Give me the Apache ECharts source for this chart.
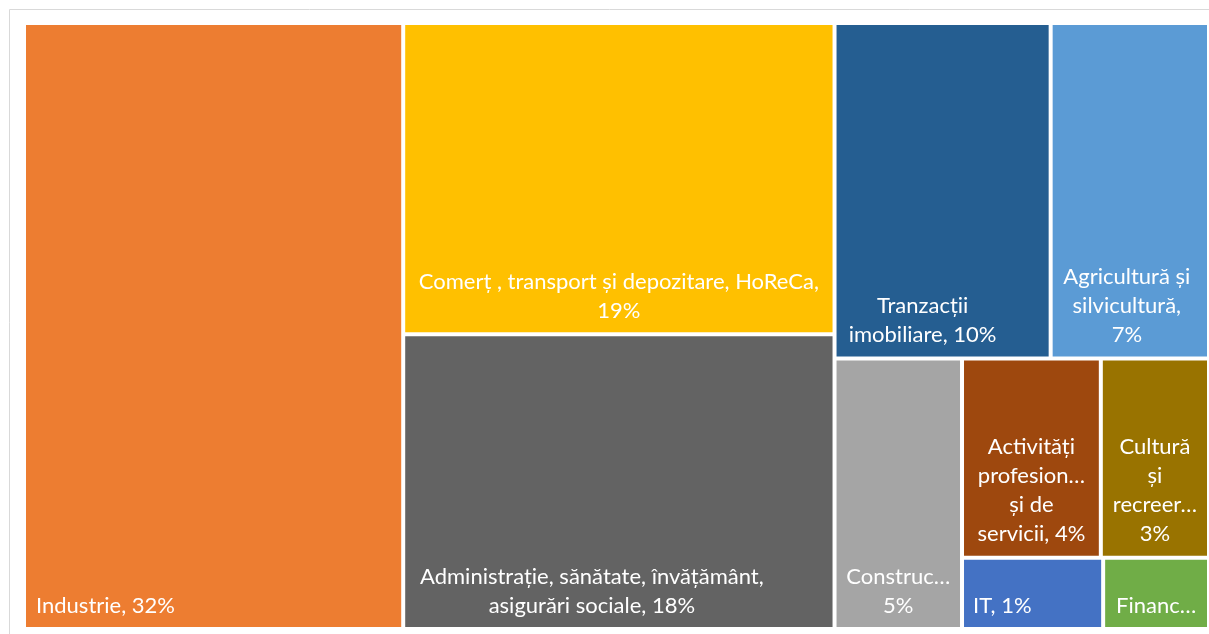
<!DOCTYPE html>
<html>
<head>
<meta charset="utf-8">
<script src="https://cdn.jsdelivr.net/npm/echarts@6/dist/echarts.min.js"></script>
<style>
  html, body { margin: 0; background: #fff; }
  #chart { width: 1209px; height: 634px; }
</style>
</head>
<body>
<div id="chart"></div>
<script>
// sectoare si ponderea lor (%)
const sectors = [
  "Industrie",
  "Comerț , transport și depozitare, HoReCa",
  "Administrație, sănătate, învățământ, asigurări sociale",
  "Tranzacții imobiliare",
  "Agricultură și silvicultură",
  "Construcții",
  "Activități profesionale și de servicii",
  "Cultură și recreere",
  "IT",
  "Financiar"
]
const shares = [32.0, 18.7, 17.7, 10.1, 7.4, 4.8, 3.85, 3.0, 1.4, 1.05]
const sectorColors = ["#ED7D31", "#FFC000", "#636363", "#255E91", "#5B9BD5", "#A5A5A5", "#9E480E", "#997300", "#4472C4", "#70AD47"]
// textul afisat in fiecare casuta ({p} = procent)
const labelTexts = [
  "Industrie, {p}%",
  "Comerț , transport și depozitare, HoReCa,\n{p}%",
  "Administrație, sănătate, învățământ,\nasigurări sociale, {p}%",
  "Tranzacții\nimobiliare, {p}%",
  "Agricultură și\nsilvicultură,\n{p}%",
  "Construc…\n{p}%",
  "Activități\nprofesion…\nși de\nservicii, {p}%",
  "Cultură\nși\nrecreer…\n{p}%",
  "IT, {p}%",
  "Financ…"
]

// gruparea casutelor (indici in sectors), ca sa iasa aceeasi asezare ca in Excel
const layoutGroups = [0, [1, 2], [[3, 4], [5, [[6, 7], [8, 9]]]]]

// ancorarea etichetelor
const labelAnchor = {
  0: { position: "insideBottomLeft", align: "left", offset: [3, 0] },
  2: { offset: [-27, 0] },
  3: { offset: [-20, 0] },
  4: { offset: [-3, 0] },
  8: { position: "insideBottomLeft", align: "left", offset: [2, 0] }
}

const total = shares.reduce((a, b) => a + b, 0)

function buildNode(node, path) {
  if (typeof node === "number") {
    const i = node
    const pct = Math.round(shares[i] * 100 / total)
    return {
      name: sectors[i],
      value: shares[i],
      itemStyle: { color: sectorColors[i] },
      label: Object.assign({
        position: "insideBottom",
        align: "center",
        formatter: labelTexts[i].replace("{p}", pct)
      }, labelAnchor[i] || {})
    }
  }
  return {
    name: "grup " + path,
    children: node.map((child, k) => buildNode(child, path + "." + k))
  }
}

const treeData = layoutGroups.map((g, k) => buildNode(g, String(k)))

const myChart = echarts.init(document.getElementById("chart"))
myChart.setOption({
  animation: false,
  graphic: [{
    type: "rect",
    shape: { x: 9.5, y: 9.5, width: 1220, height: 640 },
    style: { fill: "none", stroke: "#d9d9d9", lineWidth: 1 },
    silent: true
  }],
  series: [{
    type: "treemap",
    left: 26,
    top: 25,
    width: 1181,
    height: 602,
    sort: false,
    squareRatio: 1,
    roam: false,
    nodeClick: false,
    breadcrumb: { show: false },
    itemStyle: { borderWidth: 0, gapWidth: 4, borderColor: "#fff" },
    label: {
      show: true,
      color: "#fff",
      fontFamily: "Lato",
      fontSize: 22,
      lineHeight: 29,
      padding: 0,
      distance: 7
    },
    upperLabel: { show: false },
    data: treeData
  }]
})
</script>
</body>
</html>
